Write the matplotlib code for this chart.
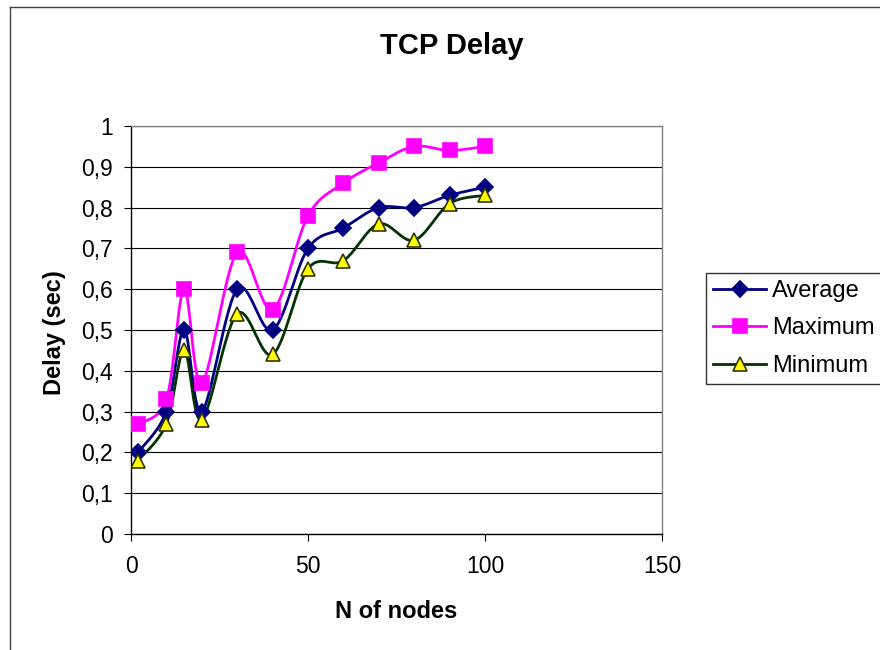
import numpy as np
import matplotlib
matplotlib.use('Agg')
import matplotlib.pyplot as plt
from matplotlib.lines import Line2D
from matplotlib.ticker import FuncFormatter

plt.rcParams['font.family'] = ['Liberation Sans', 'DejaVu Sans']

nodes = [2, 10, 15, 20, 30, 40, 50, 60, 70, 80, 90, 100]
average = [0.2, 0.3, 0.5, 0.3, 0.6, 0.5, 0.7, 0.75, 0.8, 0.8, 0.83, 0.85]
maximum = [0.27, 0.33, 0.6, 0.37, 0.69, 0.55, 0.78, 0.86, 0.91, 0.95, 0.94, 0.95]
minimum = [0.18, 0.27, 0.45, 0.28, 0.54, 0.44, 0.65, 0.67, 0.76, 0.72, 0.81, 0.83]


def smooth(x, y, n=30):
    # excel style smoothed line (catmull-rom as bezier)
    p = np.column_stack([x, y]).astype(float)
    p = np.vstack([p[0], p, p[-1]])
    out = []
    t = np.linspace(0, 1, n)[:, None]
    for i in range(1, len(p) - 2):
        p0, p1, p2, p3 = p[i - 1], p[i], p[i + 1], p[i + 2]
        c1 = p1 + (p2 - p0) / 6
        c2 = p2 - (p3 - p1) / 6
        seg = ((1 - t) ** 3) * p1 + 3 * ((1 - t) ** 2) * t * c1 + 3 * (1 - t) * t ** 2 * c2 + t ** 3 * p2
        out.append(seg)
    s = np.vstack(out)
    return s[:, 0], s[:, 1]


fig = plt.figure(figsize=(8.8, 6.5), dpi=100)
ax = fig.add_axes([131 / 880, 116 / 650, 531 / 880, 408 / 650])

series = [
    ('Average', average, '#000080', 'D', '#000080', '#000080', 8.5),
    ('Maximum', maximum, '#FF00FF', 's', '#FF00FF', '#FF00FF', 10),
    ('Minimum', minimum, '#003300', '^', '#FFFF00', '#333300', 9.5),
]
handles = []
for name, vals, col, mk, fc, ec, ms in series:
    sx, sy = smooth(nodes, vals)
    ax.plot(sx, sy, color=col, lw=2.0, zorder=3)
    ax.plot(nodes, vals, ls='none', marker=mk, ms=ms, mfc=fc, mec=ec, mew=1.2, zorder=4)
    handles.append(Line2D([], [], color=col, lw=2.0, marker=mk, ms=ms, mfc=fc, mec=ec, mew=1.2, label=name))

ax.set_xlim(0, 150)
ax.set_ylim(0, 1)
ax.set_xticks([0, 50, 100, 150])
ax.set_yticks(np.arange(0, 1.01, 0.1))
ax.yaxis.set_major_formatter(FuncFormatter(lambda v, p: ('%g' % round(v, 1)).replace('.', ',')))
ax.grid(axis='y', color='black', lw=0.8)
ax.set_axisbelow(True)
ax.tick_params(axis='both', direction='out', length=4.8, width=0.8, labelsize=16.5, color='black')
ax.tick_params(axis='y', pad=8)
ax.tick_params(axis='x', pad=10)
for s in ['left', 'bottom']:
    ax.spines[s].set_color('black')
    ax.spines[s].set_linewidth(1.0)
for s in ['top', 'right']:
    ax.spines[s].set_color('#808080')
    ax.spines[s].set_linewidth(1.0)

fig.text(452 / 880, 1 - 46 / 650, 'TCP Delay', ha='center', va='center', fontsize=21, fontweight='bold')
fig.text(396 / 880, 1 - 611 / 650, 'N of nodes', ha='center', va='center', fontsize=17, fontweight='bold')
fig.text(54 / 880, 1 - 333 / 650, 'Delay (sec)', ha='center', va='center', rotation=90, fontsize=17, fontweight='bold')

leg = fig.legend(handles=handles, loc='upper left', bbox_to_anchor=(706 / 880, 1 - 273 / 650),
                 fontsize=17, frameon=True, fancybox=False, handlelength=2.25, handletextpad=0.25,
                 labelspacing=0.65, borderpad=0.3, borderaxespad=0)
leg.get_frame().set_edgecolor('black')
leg.get_frame().set_linewidth(1.0)

# chart area border
fig.add_artist(Line2D([10 / 880, 10 / 880], [0, 1 - 7 / 650], color='#404040', lw=1.0))
fig.add_artist(Line2D([10 / 880, 1], [1 - 7 / 650, 1 - 7 / 650], color='#404040', lw=1.0))

fig.savefig('out.png', dpi=100)
